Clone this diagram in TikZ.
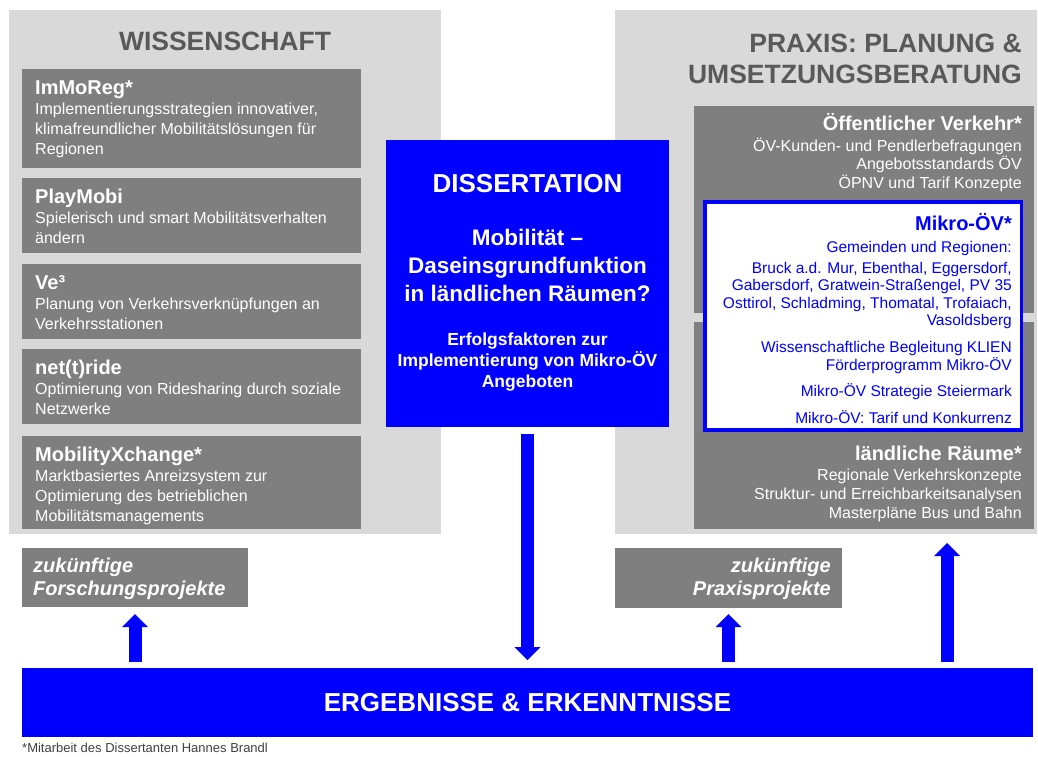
\documentclass[tikz,border=0pt]{standalone}
\usepackage{fontspec}
\setmainfont{Liberation Sans}
\usetikzlibrary{arrows.meta,calc}
\definecolor{panelgray}{HTML}{D9D9D9}
\definecolor{boxgray}{HTML}{7F7F7F}
\definecolor{titlegray}{HTML}{595959}
\definecolor{mainblue}{HTML}{0000FF}
\definecolor{notegray}{HTML}{404040}
\newcommand{\setfs}[2]{\fontsize{#1}{#2}\selectfont}
\newcommand{\boxtitle}{\fontsize{20}{20}\selectfont\bfseries}
\begin{document}
\begin{tikzpicture}[x=1pt,y=-1pt,
 rect/.style={inner sep=0pt,outer sep=0pt,anchor=north west,draw=none},
 panel/.style={rect,fill=panelgray},
 gbox/.style={rect,fill=boxgray},
 bbox/.style={rect,fill=mainblue},
 ltext/.style={inner sep=0pt,anchor=north west,align=left,text=white,font=\setfs{16}{20}},
 rtext/.style={inner sep=0pt,anchor=north east,align=right,text=white},
 ctext/.style={inner sep=0pt,text=white,align=center},
 bigarrow/.style={draw=mainblue,line width=13pt,-{Triangle[width=26pt,length=13pt,line width=0pt]}}
]
\useasboundingbox (0,0) rectangle (1038,756);

% panels
\node[panel,minimum width=432pt,minimum height=524pt] (lpanel) at (9,10) {};
\node[panel,minimum width=422pt,minimum height=524pt] (rpanel) at (615,10) {};

\node[anchor=base,inner sep=0pt,text=titlegray,font=\setfs{26.5}{31}\bfseries] (wissT) at ($(lpanel.north)+(0,40)$) {WISSENSCHAFT};
\node[rtext,text=titlegray,font=\setfs{26.5}{31}\bfseries] (praxisT) at ($(rpanel.north east)+(-15,22)$) {\rule{0pt}{20pt}PRAXIS: PLANUNG \&\\UMSETZUNGSBERATUNG};

% left boxes
\node[gbox,minimum width=339pt,minimum height=99pt] (immo) at (22,69) {};
\node[gbox,minimum width=339pt,minimum height=75pt] (play) at (22,178) {};
\node[gbox,minimum width=339pt,minimum height=75pt] (ve) at (22,264) {};
\node[gbox,minimum width=339pt,minimum height=75pt] (net) at (22,349) {};
\node[gbox,minimum width=339pt,minimum height=93pt] (mobx) at (22,436) {};

\node[ltext] (immoT) at ($(immo.north west)+(13,6)$) {\rule{0pt}{19pt}{\boxtitle ImMoReg*}\\Implementierungsstrategien innovativer,\\klimafreundlicher Mobilitätslösungen für\\Regionen};
\node[ltext] (playT) at ($(play.north west)+(13,6)$) {\rule{0pt}{19pt}{\boxtitle PlayMobi}\\Spielerisch und smart Mobilitätsverhalten\\ändern};
\node[ltext] (veT) at ($(ve.north west)+(13,6)$) {\rule{0pt}{19pt}{\boxtitle Ve³}\\Planung von Verkehrsverknüpfungen an\\Verkehrsstationen};
\node[ltext] (netT) at ($(net.north west)+(13,6)$) {\rule{0pt}{19pt}{\boxtitle net(t)ride}\\Optimierung von Ridesharing durch soziale\\Netzwerke};
\node[ltext] (mobxT) at ($(mobx.north west)+(13,6)$) {\rule{0pt}{19pt}{\boxtitle MobilityXchange*}\\Marktbasiertes Anreizsystem zur\\Optimierung des betrieblichen\\Mobilitätsmanagements};

% right boxes
\node[gbox,minimum width=340pt,minimum height=207pt] (oeff) at (694,106) {};
\node[gbox,minimum width=340pt,minimum height=207pt] (laend) at (694,322) {};
\node[rect,fill=white,draw=mainblue,line width=3.5pt,minimum width=316.5pt,minimum height=228pt] (mikro) at (705,202) {};

\node[rtext,font=\setfs{16}{18.5}] (oeffT) at ($(oeff.north east)+(-12,5)$) {\rule{0pt}{19pt}{\boxtitle Öffentlicher Verkehr*}\\[2.5pt]ÖV-Kunden- und Pendlerbefragungen\\Angebotsstandards ÖV\\ÖPNV und Tarif Konzepte};
\node[rtext,text=mainblue,font=\setfs{15.5}{17.5}] (mikroT) at ($(mikro.north east)+(-9.5,9)$) {\rule{0pt}{19pt}{\boxtitle Mikro-ÖV*}\\[4.5pt]Gemeinden und Regionen:\\[3.5pt]Bruck a.d. Mur, Ebenthal, Eggersdorf,\\Gabersdorf, Gratwein-Straßengel, PV 35\\Osttirol, Schladming, Thomatal, Trofaiach,\\Vasoldsberg\\[9.5pt]Wissenschaftliche Begleitung KLIEN\\Förderprogramm Mikro-ÖV\\[8.5pt]Mikro-ÖV Strategie Steiermark\\[9.5pt]Mikro-ÖV: Tarif und Konkurrenz};
\node[rtext,font=\setfs{16}{19}] (laendT) at ($(laend.south east)+(-12,-88)$) {\rule{0pt}{19pt}{\boxtitle ländliche Räume*}\\[1pt]Regionale Verkehrskonzepte\\Struktur- und Erreichbarkeitsanalysen\\Masterpläne Bus und Bahn};

% center box
\node[bbox,minimum width=283pt,minimum height=287pt] (diss) at (386,140) {};
\node[ctext,anchor=base,font=\setfs{26}{30}\bfseries] (dissT) at ($(diss.north)+(0,52)$) {DISSERTATION};
\node[ctext,anchor=north,font=\setfs{22.5}{28}\bfseries] (frage) at ($(diss.north)+(0,87.5)$) {\rule{0pt}{17.5pt}Mobilität –\\Daseinsgrundfunktion\\in ländlichen Räumen?};
\node[ctext,anchor=north,font=\setfs{17.5}{21}\bfseries] (erfolg) at ($(diss.north)+(0,191)$) {\rule{0pt}{14pt}Erfolgsfaktoren zur\\Implementierung von Mikro-ÖV\\Angeboten};

% future boxes
\node[gbox,minimum width=226pt,minimum height=59pt] (forsch) at (22,548) {};
\node[gbox,minimum width=227pt,minimum height=60pt] (prax) at (615,548) {};
\node[ltext,font=\setfs{20}{23}\bfseries\itshape] (forschT) at ($(forsch.north west)+(11,8)$) {\rule{0pt}{16pt}zukünftige\\Forschungsprojekte};
\node[rtext,font=\setfs{20}{23}\bfseries\itshape] (praxT) at ($(prax.north east)+(-11,8)$) {\rule{0pt}{16pt}zukünftige\\Praxisprojekte};

% results bar
\node[bbox,minimum width=1011pt,minimum height=69pt] (bar) at (22,668) {};
\node[ctext,font=\setfs{26}{30}\bfseries] (barT) at (bar.center) {ERGEBNISSE \& ERKENNTNISSE};

% footnote
\node[anchor=base west,inner sep=0pt,text=notegray,font=\setfs{13}{15}] (note) at (22,752) {*Mitarbeit des Dissertanten Hannes Brandl};

% arrows
\draw[bigarrow,shorten <=6pt,shorten >=7pt] (bar.north -| forsch.south) -- (forsch.south);
\draw[bigarrow,shorten <=6pt,shorten >=6pt] (bar.north -| prax.south) -- (prax.south);
\draw[bigarrow,shorten <=7pt,shorten >=8pt] (diss.south) -- (diss.south |- bar.north);
\coordinate (rarrow) at (947,668);
\draw[bigarrow,shorten <=6pt,shorten >=14pt] (rarrow) -- (rarrow |- laend.south);
\end{tikzpicture}
\end{document}
